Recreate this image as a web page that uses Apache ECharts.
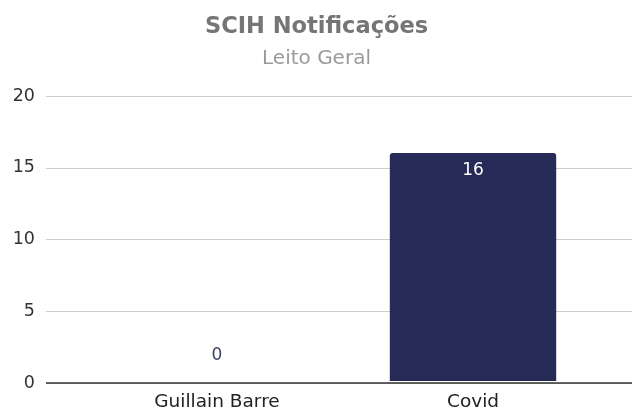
<!DOCTYPE html>
<html>
<head>
<meta charset="utf-8">
<script src="https://cdn.jsdelivr.net/npm/echarts@6/dist/echarts.min.js"></script>
<style>
  html, body { margin: 0; padding: 0; background: #fff; }
  #chart { width: 633px; height: 412px; }
</style>
</head>
<body>
<div id="chart"></div>
<script>
// dados do gráfico
const categories = ['Guillain Barre', 'Covid'];
const values = [0, 16];
const yTicks = [0, 5, 10, 15, 20];

const font = '"DejaVu Sans", sans-serif';
const barColor = '#262a56';

const chart = echarts.init(document.getElementById('chart'));

chart.setOption({
  animation: false,
  title: {
    text: 'SCIH Notificações',
    subtext: 'Leito Geral',
    left: 'center',
    top: 11,
    itemGap: 10,
    textStyle: { fontFamily: font, fontSize: 22.5, fontWeight: 'bold', color: '#757575' },
    subtextStyle: { fontFamily: font, fontSize: 20, color: '#9a9a9a' }
  },
  grid: [
    // grade de fundo (linhas horizontais em toda a largura)
    { left: 46, right: 1, top: 96, bottom: 29 },
    // área das barras
    { left: 89, right: 32, top: 96, bottom: 29 }
  ],
  xAxis: [
    {
      type: 'category', gridIndex: 0, data: [''],
      axisLine: { show: false },
      axisTick: { show: false }, axisLabel: { show: false }
    },
    {
      type: 'category', gridIndex: 1, data: categories,
      axisLine: { show: false }, axisTick: { show: false },
      axisLabel: { fontFamily: font, fontSize: 18.5, color: '#222', margin: 12 }
    }
  ],
  yAxis: [
    {
      type: 'value', gridIndex: 0, min: yTicks[0], max: yTicks[yTicks.length - 1], interval: 5,
      axisLine: { show: false }, axisTick: { show: false },
      axisLabel: { fontFamily: font, fontSize: 17.5, color: '#333', margin: 11 },
      splitLine: { lineStyle: { color: '#cccccc', width: 1 } }
    },
    {
      type: 'value', gridIndex: 1, min: 0, max: 20, interval: 5, show: false,
      splitLine: { show: false }
    }
  ],
  series: [
    {
      type: 'bar',
      xAxisIndex: 1,
      yAxisIndex: 1,
      barWidth: '65%',
      itemStyle: { color: barColor, borderWidth: 0, borderRadius: [3, 3, 0, 0] },
      data: values.map(v => ({
        value: v,
        label: v === 0
          ? { show: true, position: 'top', distance: 17, color: '#3e4366' }
          : { show: true, position: 'insideTop', distance: 9, color: '#ffffff' }
      })),
      label: { fontFamily: font, fontSize: 17 }
    },
    {
      // linha base escura do eixo, desenhada por cima das barras
      type: 'line',
      xAxisIndex: 0,
      yAxisIndex: 0,
      silent: true,
      data: [],
      z: 10,
      markLine: {
        silent: true,
        symbol: 'none',
        label: { show: false },
        lineStyle: { color: '#333', width: 1.5, type: 'solid' },
        data: [{ yAxis: 0 }]
      }
    }
  ]
});
</script>
</body>
</html>
